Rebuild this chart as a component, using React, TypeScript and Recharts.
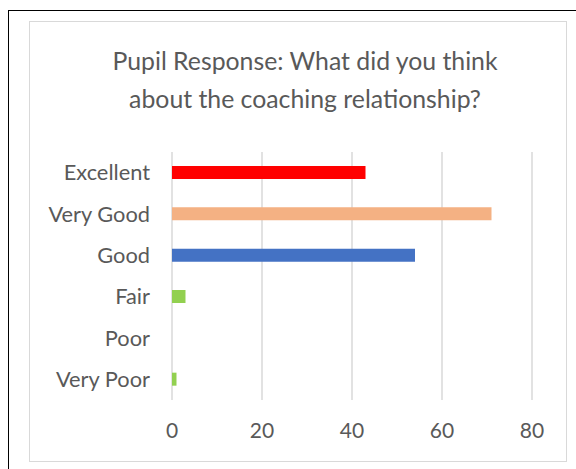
import { BarChart, Bar, XAxis, YAxis, CartesianGrid, Cell } from "recharts";

const categories = ["Excellent", "Very Good", "Good", "Fair", "Poor", "Very Poor"];
const responses = [43, 71, 54, 3, 0, 1];
const barColors = ["#FF0000", "#F4B183", "#4472C4", "#92D050", "#92D050", "#92D050"];
const xTicks = [0, 20, 40, 60, 80];

const data = categories.map((name, i) => ({ name, value: responses[i] }));

const FONT = "Lato, 'Noto Sans', sans-serif";
const TEXT = "#595959";

export default function App() {
  return (
    <div style={{ position: "absolute", left: 0, top: 0, width: 576, height: 469, overflow: "hidden", background: "#fff", fontFamily: FONT }}>
      {/* outer black frame */}
      <div style={{ position: "absolute", left: 8, top: 10, width: 600, height: 500, borderTop: "1px solid #000", borderLeft: "1px solid #000" }} />
      {/* chart area frame */}
      <div style={{ position: "absolute", left: 29, top: 21, width: 536, height: 439, border: "1px solid #d9d9d9" }} />
      <div
        style={{
          position: "absolute",
          left: 105,
          top: 42,
          width: 400,
          textAlign: "center",
          color: TEXT,
          fontSize: 24.8,
          lineHeight: "38px",
        }}
      >
        Pupil Response: What did you think
        <br />
        about the coaching relationship?
      </div>
      <div style={{ position: "absolute", left: 0, top: 0 }}>
        <BarChart
          width={576}
          height={469}
          data={data}
          layout="vertical"
          margin={{ top: 152, right: 44, left: 0, bottom: 19 }}
        >
          <CartesianGrid horizontal={false} stroke="#d9d9d9" strokeWidth={1.5} />
          <XAxis
            type="number"
            domain={[0, 80]}
            ticks={xTicks}
            axisLine={false}
            tickLine={false}
            tickSize={0}
            tickMargin={23}
            height={50}
            tick={{ fill: TEXT, fontSize: 21, fontFamily: FONT }}
          />
          <YAxis
            type="category"
            dataKey="name"
            axisLine={false}
            tickLine={false}
            tickSize={0}
            tickMargin={22}
            width={172}
            tick={{ fill: TEXT, fontSize: 21.8, fontFamily: FONT }}
          />
          <Bar dataKey="value" barSize={13} isAnimationActive={false}>
            {data.map((d, i) => (
              <Cell key={d.name} fill={barColors[i]} />
            ))}
          </Bar>
        </BarChart>
      </div>
    </div>
  );
}
